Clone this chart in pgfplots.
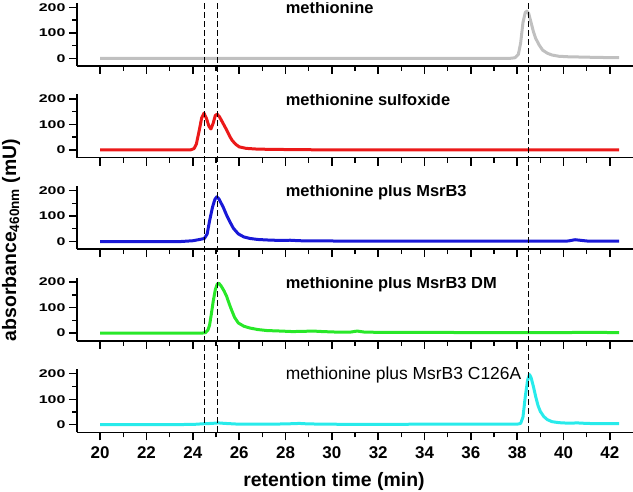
\documentclass[border=0pt]{standalone}
\usepackage{fontspec}
\setmainfont{Liberation Sans}
\usepackage{graphicx}
\usepackage{pgfplots}
\pgfplotsset{compat=1.18}
\definecolor{cgray}{RGB}{192,192,192}
\definecolor{cred}{RGB}{235,25,25}
\definecolor{cblue}{RGB}{25,25,215}
\definecolor{cgreen}{RGB}{40,232,40}
\definecolor{ccyan}{RGB}{40,235,235}
\newcommand{\sq}[1]{\scalebox{1}[0.7]{#1}}
\tikzset{
  ttl/.style={anchor=base west, font=\fontsize{16.5}{16.5}\selectfont\bfseries},
  crv/.style={line width=3bp, line join=round},
  vl/.style={black, line width=1.5bp, dash pattern=on 6bp off 3bp},
}
\pgfplotsset{
  panel/.style={
    scale only axis, width=556bp, height=63.24bp,
    xmin=19, xmax=43, ymin=-30, ymax=218,
    anchor=south west,
    axis x line*=bottom, axis y line*=left,
    axis line style={line width=1.6bp, black},
    tick align=outside,
    major tick length=8bp, minor tick length=5bp,
    tick style={black, line width=1.4bp},
    xtick={20,22,...,42}, minor x tick num=1,
    ytick={0,100,200}, minor y tick num=1,
    yticklabels={\sq{0},\sq{100},\sq{200}},
    yticklabel style={font=\fontsize{16}{16}\selectfont\bfseries},
    xticklabel style={font=\fontsize{17}{17}\selectfont\bfseries, yshift=-2.5bp},
    /pgf/number format/assume math mode=true,
  },
}
\begin{document}
\begin{tikzpicture}
\useasboundingbox (0,0) rectangle (633bp,-492bp);
% panel 1
\begin{axis}[panel, at={(77bp,-65.95bp)}, xticklabels={}]
\addplot[crv, cgray] coordinates {(20,0) (37.7,0) (37.9,2) (38.05,15) (38.15,60) (38.25,140) (38.35,180) (38.42,185) (38.5,175) (38.6,140) (38.7,105) (38.8,78) (38.95,52) (39.1,32) (39.3,20) (39.5,13) (39.8,8) (40.2,6) (40.7,5) (41.2,4) (41.8,3) (42.4,3)};
\node[ttl] at (axis cs:27.86,176) {methionine};
\end{axis}
% panel 2
\begin{axis}[panel, at={(77bp,-157.55bp)}, xticklabels={}]
\addplot[crv, cred] coordinates {(20,0) (23.9,0) (24.05,5) (24.15,22) (24.28,78) (24.38,125) (24.48,144) (24.58,125) (24.7,92) (24.78,82) (24.88,105) (24.97,135) (25.05,140) (25.15,130) (25.3,105) (25.46,78) (25.6,52) (25.7,37) (25.85,22) (26.0,12) (26.3,6) (26.8,3) (27.5,2) (28.5,1) (30,0) (42.4,0)};
\node[ttl] at (axis cs:27.86,176) {methionine sulfoxide};
\end{axis}
% panel 3
\begin{axis}[panel, at={(77bp,-249.15bp)}, xticklabels={}]
\addplot[crv, cblue] coordinates {(20,0) (23.5,0) (24.0,3) (24.3,8) (24.5,12) (24.62,30) (24.72,80) (24.85,135) (24.95,165) (25.03,175) (25.12,168) (25.31,135) (25.45,105) (25.6,77) (25.75,52) (25.96,30) (26.2,18) (26.46,12) (26.8,8) (27.2,6) (27.8,4) (28.2,5) (28.6,3) (30,2) (32,1) (34,1) (36,1) (38,1) (39.5,1) (40.2,2) (40.5,7) (40.7,5) (41,2) (41.5,1) (42.4,1)};
\node[ttl] at (axis cs:27.86,176) {methionine plus MsrB3};
\end{axis}
% panel 4
\begin{axis}[panel, at={(77bp,-340.75bp)}, xticklabels={}]
\addplot[crv, cgreen] coordinates {(20,0) (24.4,0) (24.55,2) (24.65,12) (24.72,30) (24.8,75) (24.88,125) (24.97,170) (25.05,192) (25.12,196) (25.22,185) (25.35,165) (25.46,144) (25.57,115) (25.67,91) (25.8,62) (25.96,40) (26.2,27) (26.46,20) (26.8,14) (27.2,10) (27.8,8) (28.3,6) (28.8,7) (29.2,8) (29.6,6) (30.2,4) (30.8,4) (31.1,8) (31.4,4) (32,3) (34,3) (36,2) (38,2) (40,2) (41,3) (42.4,2)};
\node[ttl] at (axis cs:27.86,176) {methionine plus MsrB3 DM};
\end{axis}
% panel 5
\begin{axis}[panel, at={(77bp,-432.35bp)}, clip=false]
\addplot[crv, ccyan] coordinates {(20,0) (22,0) (24,1) (24.5,4) (24.8,5) (25.1,7) (25.4,5) (26,2) (27,2) (28,3) (28.6,5) (29,3) (30,2) (31,1) (33,1) (33.4,2) (35,2) (37,2) (38,2) (38.15,5) (38.25,30) (38.35,110) (38.45,175) (38.53,197) (38.6,185) (38.7,150) (38.8,110) (38.9,75) (39.0,52) (39.15,32) (39.3,20) (39.5,12) (39.8,8) (40.2,6) (40.6,7) (41,5) (41.5,4) (42,4) (42.4,4)};
\node[anchor=base west, font=\fontsize{17.5}{17.5}\selectfont] at (axis cs:27.86,176) {methionine plus MsrB3 C126A};
\draw[vl] (axis cs:24.5,-27) -- (axis cs:24.5,1700);
\draw[vl] (axis cs:25.07,-27) -- (axis cs:25.07,1700);
\draw[vl] (axis cs:38.48,-27) -- (axis cs:38.48,1700);
\end{axis}
\node[anchor=base, font=\fontsize{19.5}{19.5}\selectfont\bfseries] at (334bp,-486bp) {retention time (min)};
\node[rotate=90, anchor=base, font=\fontsize{19.5}{19.5}\selectfont\bfseries] at (16bp,-240bp) {absorbance\textsubscript{460nm} (mU)};
\end{tikzpicture}
\end{document}
